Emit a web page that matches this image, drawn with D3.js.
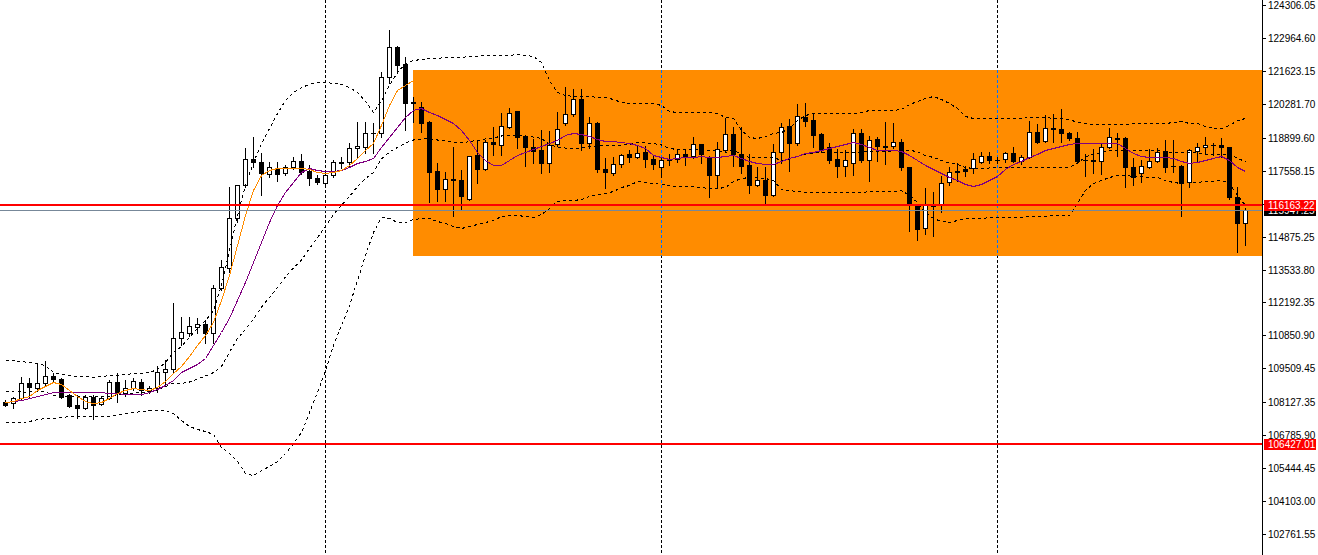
<!DOCTYPE html>
<html><head><meta charset="utf-8">
<script src="https://cdn.jsdelivr.net/npm/d3@7"></script>
<style>
body{margin:0;background:#fff;overflow:hidden}
svg{display:block}
text{font-family:"Liberation Sans",Arial,sans-serif;font-size:10px}
</style>
</head><body>
<svg id="c" width="1318" height="555"></svg>
<script>
// ---- candle data (price units) ----
const open=[108137,108096,108299,108911,108707,108911,109196,109074,108422,108015,
107893,108340,108055,108299,108951,108503,108707,108951,108585,108707,
109359,109481,110743,110947,111191,111314,110947,112780,113594,115631,
116975,118034,117912,117423,117667,117464,117708,117953,117545,117260,
117057,117382,117912,117912,118482,118522,119093,119093,121374,122596,
121903,120356,120152,119541,117545,116812,117220,117179,116405,118197,
117627,118726,118604,119337,119989,118971,118522,118400,117871,118645,
119500,119866,120478,118686,119500,117627,117464,117830,118237,118115,
118319,118034,117708,117993,118034,118237,118156,118645,118115,117382,
118400,119052,118237,117790,116975,117179,116568,118319,119378,118686,
119744,119622,119052,118522,118034,117749,117871,119093,117993,118849,
118563,118563,118726,117708,116160,115224,116160,116201,117097,117545,
117627,117667,117912,118156,117993,118034,118278,117953,118115,119133,
118767,119296,119256,119093,118889,117993,117993,117953,118522,118889,
118889,117708,117464,117708,117953,118360,117749,117749,117097,118360,
118522,118604,118604,118522,116486,115427];
const high=[108218,108340,109155,109114,109725,109807,109318,109114,108462,108422,
108422,108422,108340,109033,109318,109033,109114,109074,108788,109603,
109847,112169,111599,111599,111558,111477,112902,113920,116893,116975,
118482,118930,118278,117912,117912,117790,118115,118237,117790,117382,
117464,117993,118115,118685,119541,119541,119500,121577,123288,122640,
122190,120559,120356,119581,117871,117505,118522,117586,118156,118808,
118808,119337,119907,120111,119989,118971,118849,119215,119174,119948,
120967,120885,120885,119744,119541,118075,118115,118237,118400,118563,
118563,118156,118115,118237,118400,118400,118930,118645,118156,118726,
119704,119337,119337,118237,117708,117708,118645,119500,119663,120274,
120315,119907,119093,118686,118441,118400,119256,119256,118971,118930,
119541,119500,118849,117708,116201,116853,116690,117342,117708,117871,
117749,118278,118319,118319,118115,118319,118522,118197,119581,119459,
119826,119866,120070,119133,119133,118237,118441,118686,119296,119093,
118930,118075,117993,118441,118482,118808,118808,117790,118441,118686,
118930,118686,118889,118522,116893,116038];
const low=[107974,107893,108259,108340,108666,108829,108992,108299,107933,107485,
107852,107444,108015,108259,108137,108381,108625,108422,108503,108544,
108829,109359,110459,110825,110947,110540,110540,112698,113432,115468,
116893,117708,116568,117301,117138,117382,117627,117423,116975,117016,
116975,117301,117667,117708,118115,118278,118278,118930,121130,121537,
119215,119541,119133,116283,116323,116323,115712,115957,116364,117057,
117586,118197,118197,119296,118482,117749,117871,117464,117505,118563,
119419,119785,118400,118482,117505,116853,117382,117708,117912,118075,
117708,117627,117301,117790,117912,117790,118075,117871,116486,116853,
118319,117749,117464,116649,116934,116160,116527,117871,117545,118604,
119378,118522,118319,117871,117301,117342,117382,117912,117138,117953,
117830,118482,117586,115101,114735,114979,114898,115875,116975,117138,
117342,117464,117871,117871,117871,117912,117912,117830,118075,118686,
118726,118726,118726,118808,117912,117342,117464,117423,118482,118156,
116893,116975,117097,117667,117912,117505,117505,115712,116893,117912,
118237,118197,118115,116405,114246,114531];
const close=[108015,108299,108911,108748,108911,109196,109074,108340,107974,107893,
108340,108015,108299,108951,108503,108707,108992,108625,108707,109359,
109481,110743,110988,111232,111314,110947,112780,113635,115631,116975,
118034,117911,117464,117708,117423,117708,117953,117505,117260,117097,
117382,117912,117871,118482,118563,119093,119080,121374,122596,121862,
120315,120315,119500,117505,116812,117220,117179,116527,118156,117627,
118726,118645,119378,119907,118930,118522,118360,117871,118604,119256,
119866,120478,118686,119500,117627,117505,117830,118197,118115,118278,
118034,117830,117993,118034,118237,118115,118645,118237,117382,118441,
119052,118237,117749,116975,117179,116568,118319,119337,118686,119785,
119581,119011,118400,117993,117749,117993,119093,117993,118808,118563,
118522,118726,117708,116201,115183,116160,116140,117057,117505,117525,
117545,118034,118156,117993,117980,118278,117953,118115,119133,118726,
119296,119256,119093,118889,117953,117980,117953,118522,118930,118849,
117708,117301,117749,117953,118319,117708,117730,117057,118400,118522,
118604,118590,118522,116486,115427,115957];

// ---- indicator values ----
const bbUpper=[109847,109847,109806,109766,109725,109643,109358,109277,109236,109195,
109195,109155,109195,109236,109236,109277,109318,109318,109358,109481,
109766,110174,110418,110785,111151,111477,111884,112902,114328,115753,
116975,117912,118686,119296,119907,120437,120762,120966,121089,121170,
121170,121130,121089,120966,120762,120396,119948,120437,121048,121577,
121944,122066,122107,122148,122148,122188,122188,122188,122229,122229,
122270,122270,122270,122270,122311,122270,122229,121985,121252,120762,
120641,120600,120600,120600,120559,120559,120478,120356,120315,120315,
120315,120315,120233,119989,119948,119948,119948,119948,119948,119907,
119744,119704,119215,118930,118889,118971,119093,119134,119296,119622,
119826,119907,119907,119907,119907,119907,119907,119948,120030,120030,
120030,120030,120070,120274,120396,120518,120600,120478,120315,120111,
119785,119704,119704,119704,119704,119704,119704,119704,119744,119744,
119744,119704,119704,119663,119541,119500,119459,119459,119459,119459,
119459,119500,119500,119500,119500,119500,119541,119582,119500,119500,
119378,119296,119296,119419,119622,119704];
const bbMiddle=[108585,108585,108565,108565,108585,108565,108422,108401,108401,108381,
108381,108361,108381,108401,108442,108483,108524,108544,108585,108646,
108788,108931,108911,108972,109094,109216,109358,109603,110194,110743,
111110,111538,112026,112413,112820,113248,113615,113940,114409,114857,
115305,115794,116181,116527,116934,117260,117505,118054,118339,118523,
118706,118828,118869,118889,118828,118808,118747,118706,118767,118808,
118869,118910,118991,119012,119032,118991,118950,118889,118645,118543,
118502,118482,118502,118563,118584,118604,118604,118625,118645,118726,
118706,118686,118625,118482,118441,118441,118441,118421,118400,118380,
118319,118421,118238,118116,118095,118116,118136,117973,118034,118177,
118258,118299,118299,118299,118299,118299,118299,118319,118380,118380,
118380,118380,118421,118421,118339,118197,118116,117993,117891,117830,
117708,117667,117667,117688,117688,117688,117688,117688,117728,117728,
117728,117728,117728,117708,117891,118136,118258,118319,118380,118421,
118421,118421,118421,118400,118400,118339,118319,118319,118299,118299,
118258,118217,118238,118238,118095,117932];
const bbLower=[107322,107322,107322,107363,107444,107485,107485,107526,107566,107566,
107566,107566,107566,107566,107648,107689,107729,107770,107811,107811,
107811,107689,107404,107159,107037,106956,106833,106304,106060,105734,
105245,105163,105367,105530,105734,106060,106467,106915,107729,108544,
109440,110459,111273,112087,113106,114124,115061,115671,115631,115468,
115468,115590,115631,115631,115509,115427,115305,115224,115305,115387,
115468,115549,115712,115753,115753,115712,115671,115794,116038,116323,
116364,116364,116405,116527,116608,116649,116730,116893,116975,117138,
117097,117057,117016,116975,116934,116934,116934,116893,116853,116853,
116893,117138,117260,117301,117301,117260,117179,116812,116771,116730,
116690,116690,116690,116690,116690,116690,116690,116690,116730,116730,
116730,116730,116771,116568,116283,115875,115631,115509,115468,115549,
115631,115631,115631,115671,115671,115671,115671,115671,115712,115712,
115712,115753,115753,115753,116242,116771,117057,117179,117301,117382,
117382,117342,117342,117301,117301,117179,117097,117057,117097,117097,
117138,117138,117179,117057,116568,116160];
const maSlow=[108137,108177,108218,108299,108381,108462,108544,108544,108544,108544,
108544,108544,108544,108503,108503,108462,108462,108462,108544,108666,
108829,109033,109358,109521,109684,109929,110459,110988,111558,112291,
113024,113839,114654,115468,116160,116690,117097,117505,117667,117586,
117545,117545,117586,117708,117871,117953,118075,118522,118930,119337,
119744,120030,120111,119948,119826,119663,119500,119215,118808,118319,
117993,117790,117790,117993,118197,118319,118441,118563,118686,118808,
119012,119093,119052,118971,118849,118767,118767,118726,118686,118604,
118482,118197,118115,118034,118075,118115,118115,118156,118115,118115,
118156,118197,118075,117953,117871,117830,117830,117953,118075,118156,
118278,118319,118400,118482,118563,118645,118726,118645,118522,118400,
118400,118400,118360,118197,117993,117790,117627,117464,117301,117179,
117016,116934,117016,117179,117342,117627,117830,117953,118115,118237,
118400,118482,118563,118645,118686,118686,118686,118686,118686,118686,
118482,118278,118156,118115,118115,118115,118075,117953,117871,117912,
117993,118075,118156,117993,117708,117545];
const maFast=[108137,108177,108299,108381,108625,108788,108951,108870,108625,108381,
108177,108096,108137,108299,108503,108625,108707,108666,108625,108747,
108992,109318,109603,110010,110459,110866,111395,112291,113309,114531,
115753,116771,117382,117586,117667,117667,117667,117667,117627,117505,
117464,117505,117586,117790,118075,118400,118686,119419,120233,120844,
121048,121252,120926];

// ---- axis / objects ----
const yTicks=[124306.05,122964.60,121623.15,120281.70,118899.60,117558.15,116216.70,
114875.25,113533.80,112192.35,110850.90,109509.45,108127.35,106785.90,105444.45,104103.00,102761.55];
const redLevels=[116163.22,106427.01];
const bidLevel=[115947.25];
const separators=[40,82,124];
const boxStart=51, boxEnd=160, boxTop=121659, boxBottom=114083;

const W=1318,H=555,plotRight=1262;
const svg=d3.select('#c');
const x=d3.scaleLinear().domain([0,155]).range([5,1245]);
const y=d3.scaleLinear().domain([102761.55,124306.05]).range([534,5]);
const X=i=>Math.round(x(i));
const Y=v=>Math.round(y(v));

svg.append('rect').attr('width',W).attr('height',H).attr('fill','#fff');
svg.append('defs').append('clipPath').attr('id','plot')
  .append('rect').attr('x',0).attr('y',0).attr('width',plotRight).attr('height',H);
const g=svg.append('g').attr('clip-path','url(#plot)').attr('shape-rendering','crispEdges');

// background rectangle
const bx0=X(boxStart), bx1=X(boxEnd), by0=Y(boxTop), by1=Y(boxBottom);
g.append('rect').attr('x',bx0).attr('y',by0).attr('width',bx1-bx0).attr('height',by1-by0).attr('fill','#FF8C00');

// period separators
separators.forEach(i=>{
  const xx=X(i)+0.5;
  g.append('line').attr('x1',xx).attr('x2',xx).attr('y1',0).attr('y2',H)
    .attr('stroke','#000').attr('stroke-dasharray','3,2');
  if(X(i)>=bx0){
    g.append('rect').attr('x',X(i)).attr('y',by0).attr('width',1).attr('height',by1-by0).attr('fill','#FF8C00');
    g.append('line').attr('x1',xx).attr('x2',xx).attr('y1',0).attr('y2',H)
      .attr('stroke','#0073FF').attr('stroke-dasharray','3,2')
      .attr('clip-path',null)
      .style('clip-path',`inset(${by0}px 0px ${H-by1}px 0px)`);
  }
});

// candles
const idx=d3.range(open.length);
const cg=g.append('g');
idx.forEach(i=>{
  const xc=X(i);
  const yh=Y(high[i]), yl=Y(low[i]);
  cg.append('rect').attr('x',xc).attr('y',yh).attr('width',1).attr('height',yl-yh+1).attr('fill','#000');
  const t=Y(Math.max(open[i],close[i])), b=Y(Math.min(open[i],close[i]));
  cg.append('rect').attr('x',xc-2).attr('y',t).attr('width',5).attr('height',b-t+1).attr('fill','#000');
  if(close[i]>open[i] && b-t>1){
    cg.append('rect').attr('x',xc-1).attr('y',t+1).attr('width',3).attr('height',b-t-1).attr('fill','#fff');
  }
});

// indicators
const line=d3.line().x((d,i)=>x(i)+0.5).y(d=>y(d)+0.5);
[bbUpper,bbMiddle,bbLower].forEach(arr=>{
  g.append('path').attr('d',line(arr)).attr('fill','none').attr('stroke','#000')
    .attr('stroke-width',1).attr('stroke-dasharray','3,3');
});
g.append('path').attr('d',line(maSlow)).attr('fill','none').attr('stroke','#800080').attr('stroke-width',1);
g.append('path').attr('d',line(maFast)).attr('fill','none').attr('stroke','#FF8C00').attr('stroke-width',1);

// horizontal levels
bidLevel.forEach(v=>{
  g.append('rect').attr('x',0).attr('y',Y(v)).attr('width',plotRight).attr('height',1).attr('fill','#778899');
});
redLevels.forEach(v=>{
  g.append('rect').attr('x',0).attr('y',Y(v)-1).attr('width',plotRight).attr('height',2).attr('fill','#FF0000');
});

// right axis
const ax=svg.append('g').attr('shape-rendering','crispEdges');
ax.append('rect').attr('x',plotRight).attr('y',0).attr('width',1).attr('height',H).attr('fill','#000');
yTicks.forEach(v=>{
  const yy=Y(v);
  ax.append('rect').attr('x',plotRight+1).attr('y',yy).attr('width',3).attr('height',1).attr('fill','#000');
  ax.append('text').attr('x',plotRight+6).attr('y',yy+4).attr('fill','#000').text(v.toFixed(2));
});
function tag(v,bg){
  const yy=y(v);
  ax.append('rect').attr('x',plotRight+2).attr('y',Math.round(yy)-5).attr('width',52).attr('height',11).attr('fill',bg);
  ax.append('text').attr('x',plotRight+6).attr('y',Math.round(yy)+4).attr('fill','#fff').text(v.toFixed(2));
}
bidLevel.forEach(v=>tag(v,'#000'));
redLevels.forEach(v=>tag(v,'#FF0000'));
</script>
</body></html>
